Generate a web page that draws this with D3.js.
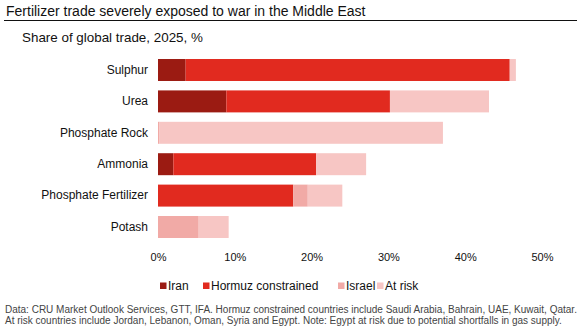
<!DOCTYPE html>
<html><head><meta charset="utf-8">
<script src="https://cdn.jsdelivr.net/npm/d3@7"></script>
<style>
html,body{margin:0;padding:0;background:#fff;}
svg{display:block;font-family:"Liberation Sans",Arial,sans-serif;}
</style></head>
<body><svg id="c" width="577" height="333"></svg>
<script>
const categories = ["Sulphur","Urea","Phosphate Rock","Ammonia","Phosphate Fertilizer","Potash"];
const seriesNames = ["Iran","Hormuz constrained","Israel","At risk"];
const iran   = [3.6, 8.9, 0,   2.0, 0,    0];
const hormuz = [42.2,21.3,0,   18.6,17.6, 0];
const israel = [0,   0,   0.2, 0,   1.9,  5.3];
const atRisk = [0.8, 12.9,36.9,6.5, 4.5,  3.9];
const xTicks = [0,10,20,30,40,50];
const colors = ["#9b1b12","#e12a1f","#f1aaa6","#f7c6c4"];

const title = "Fertilizer trade severely exposed to war in the Middle East";
const subtitle = "Share of global trade, 2025, %";
const notes = ["Data: CRU Market Outlook Services, GTT, IFA. Hormuz constrained countries include Saudi Arabia, Bahrain, UAE, Kuwait, Qatar.",
"At risk countries include Jordan, Lebanon, Oman, Syria and Egypt. Note: Egypt at risk due to potential shortfalls in gas supply."];

const svg = d3.select("#c");
const table = categories.map((c,i)=>({cat:c, "Iran":iran[i], "Hormuz constrained":hormuz[i], "Israel":israel[i], "At risk":atRisk[i]}));
const stacked = d3.stack().keys(seriesNames)(table);

const x = d3.scaleLinear().domain([0,50]).range([158,542]);
const y = d3.scaleBand().domain(categories).range([54.3,242.7]).paddingInner(0.3).paddingOuter(0.15);
const color = d3.scaleOrdinal().domain(seriesNames).range(colors);

svg.append("text").attr("x",6).attr("y",15.5).attr("font-size",14).attr("fill","#111").text(title);
svg.append("line").attr("x1",4).attr("x2",577).attr("y1",20.5).attr("y2",20.5).attr("stroke","#111").attr("stroke-width",1.2);
svg.append("text").attr("x",22).attr("y",42).attr("font-size",13.4).attr("fill","#111").text(subtitle);

svg.append("g").selectAll("g").data(stacked).join("g").attr("fill",d=>color(d.key))
  .selectAll("rect").data(d=>d).join("rect")
  .attr("x",d=>x(d[0])).attr("width",d=>Math.max(0,x(d[1])-x(d[0])))
  .attr("y",d=>y(d.data.cat)).attr("height",y.bandwidth());

const yAxis = svg.append("g").attr("transform","translate(158,0)").call(d3.axisLeft(y).tickSize(0).tickPadding(10));
yAxis.select(".domain").remove();
yAxis.selectAll("text").attr("font-size",12).attr("fill","#111").attr("font-family","Liberation Sans, Arial, sans-serif");

const xAxis = svg.append("g").attr("transform","translate(0,250)").call(d3.axisBottom(x).tickValues(xTicks).tickSize(0).tickPadding(0).tickFormat(d=>d+"%"));
xAxis.select(".domain").remove();
xAxis.selectAll("text").attr("font-size",11).attr("fill","#111").attr("dy","0.71em").attr("y",3).attr("font-family","Liberation Sans, Arial, sans-serif");

const legX = [160,203,338,377];
const leg = svg.append("g").selectAll("g").data(seriesNames).join("g")
  .attr("transform",(d,i)=>`translate(${legX[i]},282)`);
leg.append("rect").attr("width",6.5).attr("height",6.5).attr("y",0.5).attr("fill",d=>color(d));
leg.append("text").attr("x",8).attr("y",7.5).attr("font-size",12).attr("fill","#111").text(d=>d);

svg.append("g").selectAll("text").data(notes).join("text")
  .attr("x",5).attr("y",(d,i)=>313+i*11).attr("font-size",10).attr("fill","#444").text(d=>d);
</script></body></html>
